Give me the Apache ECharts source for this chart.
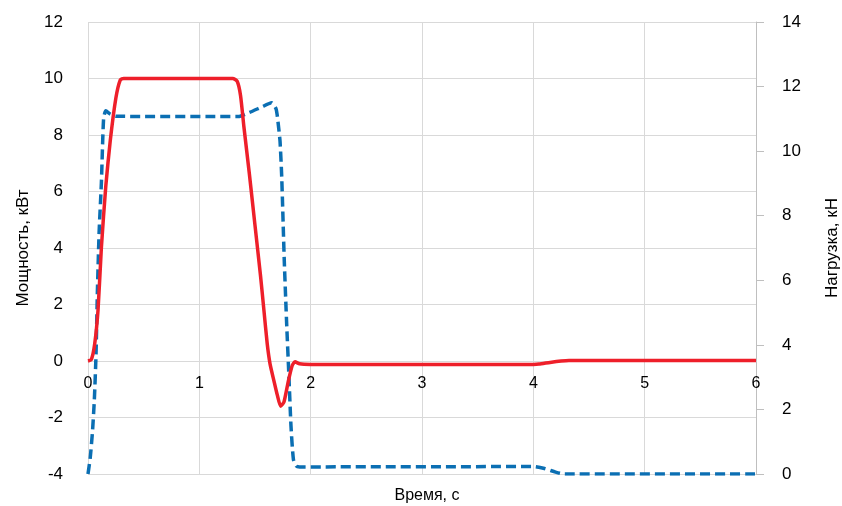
<!DOCTYPE html>
<html>
<head>
<meta charset="utf-8">
<script src="https://cdn.jsdelivr.net/npm/echarts@6/dist/echarts.min.js"></script>
<style>
html,body{margin:0;padding:0;background:#fff;}
#chart{width:842px;height:506px;}
</style>
</head>
<body>
<div id="chart"></div>
<script>
// Time, s (power series)
const powerTime = [0, 0.03, 0.06, 0.09, 0.12, 0.16, 0.2, 0.25, 0.29, 0.32, 1.3, 1.34, 1.37, 1.4, 1.45, 1.5, 1.55, 1.58, 1.61, 1.635, 1.67, 1.7, 1.73, 1.76, 1.8, 1.835, 1.86, 1.9, 2.0, 4.0, 4.05, 4.15, 4.25, 4.32, 6];
// Power, kW
const powerKW = [0, 0.05, 0.6, 1.8, 4.0, 6.2, 7.8, 9.3, 9.95, 10, 10, 9.9, 9.4, 8.3, 6.6, 4.8, 3.0, 1.8, 0.6, -0.1, -0.7, -1.2, -1.6, -1.45, -0.7, -0.15, -0.03, -0.1, -0.12, -0.12, -0.11, -0.05, 0.0, 0.02, 0.02];
// Time, s (load series)
const loadTime = [0, 0.02, 0.04, 0.057, 0.072, 0.084, 0.1, 0.12, 0.14, 0.16, 0.2, 0.25, 1.35, 1.45, 1.55, 1.65, 1.69, 1.71, 1.725, 1.74, 1.763, 1.785, 1.805, 1.823, 1.845, 1.87, 1.9, 4.0, 4.1, 4.2, 4.28, 6];
// Load, kN
const loadKN = [0, 0.5, 1.3, 2.3, 3.7, 5.6, 7.5, 9.0, 11.0, 11.25, 11.15, 11.08, 11.07, 11.2, 11.35, 11.5, 11.3, 10.8, 10.3, 9.2, 6.6, 4.6, 3.0, 1.5, 0.45, 0.25, 0.22, 0.23, 0.17, 0.06, 0, 0];

const xTicks = {min: 0, max: 6, interval: 1};
const leftTicks = {min: -4, max: 12, interval: 2};
const rightTicks = {min: 0, max: 14, interval: 2};

const powerData = powerTime.map((t, i) => [t, powerKW[i]]);
const loadData = loadTime.map((t, i) => [t, loadKN[i]]);

const FONT = '"Liberation Sans", "Noto Sans", sans-serif';
const grid = '#D9D9D9';
const GRID_TOP = 22, GRID_BOTTOM = 32, H = 506;
const plotH = H - GRID_TOP - GRID_BOTTOM;
// x axis crosses the left value axis at 0 (Excel style)
const zeroOffset = -plotH * (0 - leftTicks.min) / (leftTicks.max - leftTicks.min);

const chart = echarts.init(document.getElementById('chart'), null, {renderer: 'canvas'});
chart.setOption({
  animation: false,
  backgroundColor: '#fff',
  title: {
    text: 'Время, с',
    left: 422, top: 483, textAlign: 'center',
    textStyle: {fontFamily: FONT, fontSize: 16, fontWeight: 'normal', color: '#000'}
  },
  grid: {left: 88, right: 86, top: GRID_TOP, bottom: GRID_BOTTOM, outerBoundsMode: 'none', containLabel: false},
  xAxis: {
    type: 'value', min: xTicks.min, max: xTicks.max, interval: xTicks.interval,
    position: 'bottom', offset: zeroOffset,
    axisLine: {show: true, onZero: false, lineStyle: {color: grid, width: 1}},
    axisTick: {show: false},
    axisLabel: {margin: 15, fontFamily: FONT, fontSize: 16, color: '#000', showMaxLabel: true, showMinLabel: true},
    splitLine: {show: true, lineStyle: {color: grid, width: 1}}
  },
  yAxis: [{
    type: 'value', position: 'left', min: leftTicks.min, max: leftTicks.max, interval: leftTicks.interval,
    axisLine: {show: false, onZero: false}, axisTick: {show: false},
    axisLabel: {margin: 25, fontFamily: FONT, fontSize: 17, color: '#000'},
    splitLine: {show: true, lineStyle: {color: grid, width: 1}},
    name: 'Мощность, кВт', nameLocation: 'middle', nameGap: 56, nameRotate: 90,
    nameTextStyle: {fontFamily: FONT, fontSize: 17, color: '#000'}
  }, {
    type: 'value', position: 'right', min: rightTicks.min, max: rightTicks.max, interval: rightTicks.interval,
    axisLine: {show: true, onZero: false, lineStyle: {color: '#BFBFBF', width: 1}},
    axisTick: {show: true, inside: false, length: 8, lineStyle: {color: '#BFBFBF'}},
    axisLabel: {margin: 26, fontFamily: FONT, fontSize: 17, color: '#000'},
    splitLine: {show: false},
    name: 'Нагрузка, кН', nameLocation: 'middle', nameGap: 68, nameRotate: 90,
    nameTextStyle: {fontFamily: FONT, fontSize: 17, color: '#000'}
  }],
  series: [{
    type: 'line', yAxisIndex: 0, data: powerData, showSymbol: false, smooth: 0.2,
    lineStyle: {color: '#EE1F2A', width: 3.5, join: 'round'}, z: 3
  }, {
    type: 'line', yAxisIndex: 1, data: loadData, showSymbol: false, smooth: 0.2,
    lineStyle: {color: '#0B6FB3', width: 3.5, type: [10, 5], join: 'round'}, z: 2
  }]
});
</script>
</body>
</html>
